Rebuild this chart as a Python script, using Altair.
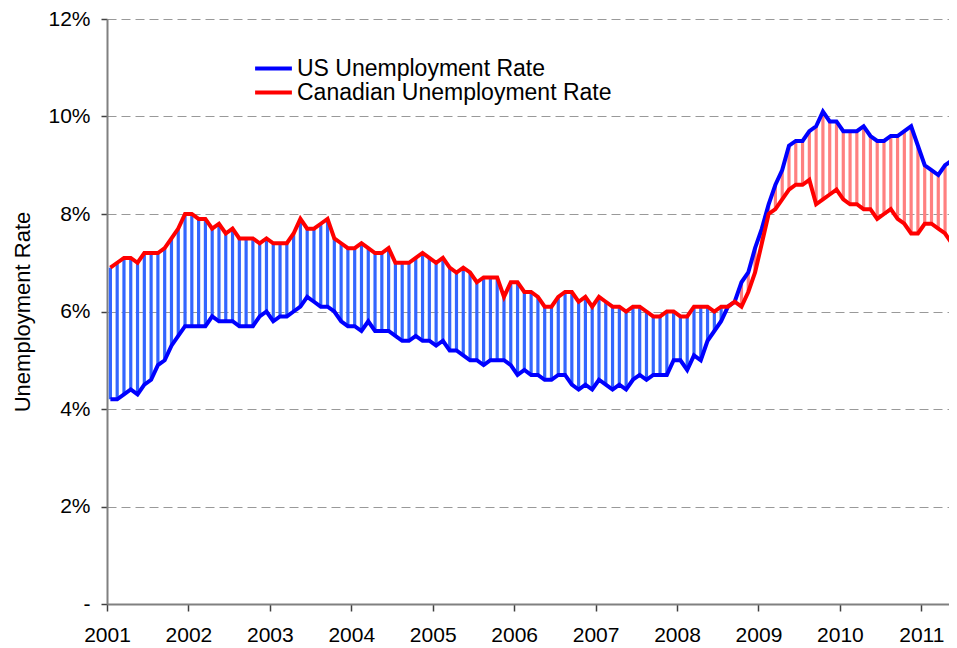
import altair as alt
import numpy as np
import pandas as pd

# Monthly unemployment rates, Jan 2001 .. Jun 2011 (percent)
US = [
    4.2, 4.2, 4.3, 4.4, 4.3, 4.5, 4.6, 4.9, 5.0, 5.3, 5.5, 5.7,
    5.7, 5.7, 5.7, 5.9, 5.8, 5.8, 5.8, 5.7, 5.7, 5.7, 5.9, 6.0,
    5.8, 5.9, 5.9, 6.0, 6.1, 6.3, 6.2, 6.1, 6.1, 6.0, 5.8, 5.7,
    5.7, 5.6, 5.8, 5.6, 5.6, 5.6, 5.5, 5.4, 5.4, 5.5, 5.4, 5.4,
    5.3, 5.4, 5.2, 5.2, 5.1, 5.0, 5.0, 4.9, 5.0, 5.0, 5.0, 4.9,
    4.7, 4.8, 4.7, 4.7, 4.6, 4.6, 4.7, 4.7, 4.5, 4.4, 4.5, 4.4,
    4.6, 4.5, 4.4, 4.5, 4.4, 4.6, 4.7, 4.6, 4.7, 4.7, 4.7, 5.0,
    5.0, 4.8, 5.1, 5.0, 5.4, 5.6, 5.8, 6.1, 6.2, 6.6, 6.8, 7.3,
    7.7, 8.2, 8.6, 8.9, 9.4, 9.5, 9.5, 9.7, 9.8, 10.1, 9.9, 9.9,
    9.7, 9.7, 9.7, 9.8, 9.6, 9.5, 9.5, 9.6, 9.6, 9.7, 9.8, 9.4,
    9.0, 8.9, 8.8, 9.0, 9.1, 9.2,
]
CANADA = [
    6.9, 7.0, 7.1, 7.1, 7.0, 7.2, 7.2, 7.2, 7.3, 7.5, 7.7, 8.0,
    8.0, 7.9, 7.9, 7.7, 7.8, 7.6, 7.7, 7.5, 7.5, 7.5, 7.4, 7.5,
    7.4, 7.4, 7.4, 7.6, 7.9, 7.7, 7.7, 7.8, 7.9, 7.5, 7.4, 7.3,
    7.3, 7.4, 7.3, 7.2, 7.2, 7.3, 7.0, 7.0, 7.0, 7.1, 7.2, 7.1,
    7.0, 7.1, 6.9, 6.8, 6.9, 6.8, 6.6, 6.7, 6.7, 6.7, 6.3, 6.6,
    6.6, 6.4, 6.4, 6.3, 6.1, 6.1, 6.3, 6.4, 6.4, 6.2, 6.3, 6.1,
    6.3, 6.2, 6.1, 6.1, 6.0, 6.1, 6.1, 6.0, 5.9, 5.9, 6.0, 6.0,
    5.9, 5.9, 6.1, 6.1, 6.1, 6.0, 6.1, 6.1, 6.2, 6.1, 6.4, 6.8,
    7.4, 8.0, 8.1, 8.3, 8.5, 8.6, 8.6, 8.7, 8.2, 8.3, 8.4, 8.5,
    8.3, 8.2, 8.2, 8.1, 8.1, 7.9, 8.0, 8.1, 7.9, 7.8, 7.6, 7.6,
    7.8, 7.8, 7.7, 7.6, 7.4, 7.4,
]
START_YEAR = 2001
YEAR_TICKS = list(range(2001, 2012))
Y_TICKS = [0, 2, 4, 6, 8, 10, 12]
US_NAME = "US Unemployment Rate"
CA_NAME = "Canadian Unemployment Rate"

# month midpoints as decimal years
t = [START_YEAR + (i + 0.5) / 12 for i in range(len(US))]
df = pd.DataFrame({"t": t, US_NAME: US, CA_NAME: CANADA})
df["gap"] = np.where(df[CA_NAME] >= df[US_NAME], "Canada higher", "US higher")

FONT = "Liberation Sans"

x_enc = alt.X(
    "t:Q",
    scale=alt.Scale(domain=[2001, 2011.34], nice=False, zero=False),
    axis=alt.Axis(
        values=YEAR_TICKS, format="d", title=None, grid=False,
        tickSize=7, tickColor="#404040", tickWidth=1.5,
        labelPadding=13, labelFontSize=21, labelColor="black", labelFont=FONT,
        domainColor="#808080", domainWidth=2, labelFlush=False,
    ),
)
y_axis = alt.Axis(
    values=Y_TICKS,
    labelExpr="datum.value == 0 ? '-' : datum.value + '%'",
    title="Unemployment Rate", titleFontSize=22, titleFontWeight="normal",
    titleColor="black", titleFont=FONT, titlePadding=13,
    grid=True, gridDash=[9, 5], gridColor="#999999", gridWidth=1,
    tickSize=6, tickColor="#404040", tickWidth=1.5,
    labelPadding=11, labelFontSize=21, labelColor="black", labelFont=FONT,
    domainColor="#808080", domainWidth=2,
)
y_scale = alt.Scale(domain=[0, 12], nice=False)

stripes = alt.Chart(df).mark_rule(strokeWidth=3.2, clip=True).encode(
    x=x_enc,
    y=alt.Y(f"{US_NAME}:Q", scale=y_scale, axis=y_axis),
    y2=alt.Y2(f"{CA_NAME}:Q"),
    color=alt.Color(
        "gap:N",
        scale=alt.Scale(domain=["Canada higher", "US higher"], range=["#3366FF", "#FF8080"]),
        legend=None,
    ),
)

lines = alt.Chart(df).transform_fold(
    [US_NAME, CA_NAME], as_=["series", "rate"]
).mark_line(strokeWidth=4, clip=True).encode(
    x=x_enc,
    y=alt.Y("rate:Q", scale=y_scale, axis=y_axis),
    color=alt.Color(
        "series:N",
        scale=alt.Scale(domain=[US_NAME, CA_NAME], range=["#0000FF", "#FF0000"]),
        legend=alt.Legend(
            title=None, orient="none", legendX=155, legendY=38,
            symbolType="M-2.3,0H2.3", symbolSize=256, symbolStrokeWidth=4,
            labelFontSize=23, labelFont=FONT, labelColor="black", labelLimit=0,
            labelOffset=12, rowPadding=0, padding=0,
        ),
    ),
)

chart = alt.layer(stripes, lines).resolve_scale(color="independent").properties(
    width=842, height=585,
    autosize=alt.AutoSizeParams(type="none"),
    padding={"left": 99, "top": 11, "right": 0, "bottom": 44},
    background="white",
).configure_view(stroke=None)

chart.save("out.html", embed_options={"renderer": "svg", "actions": False})
